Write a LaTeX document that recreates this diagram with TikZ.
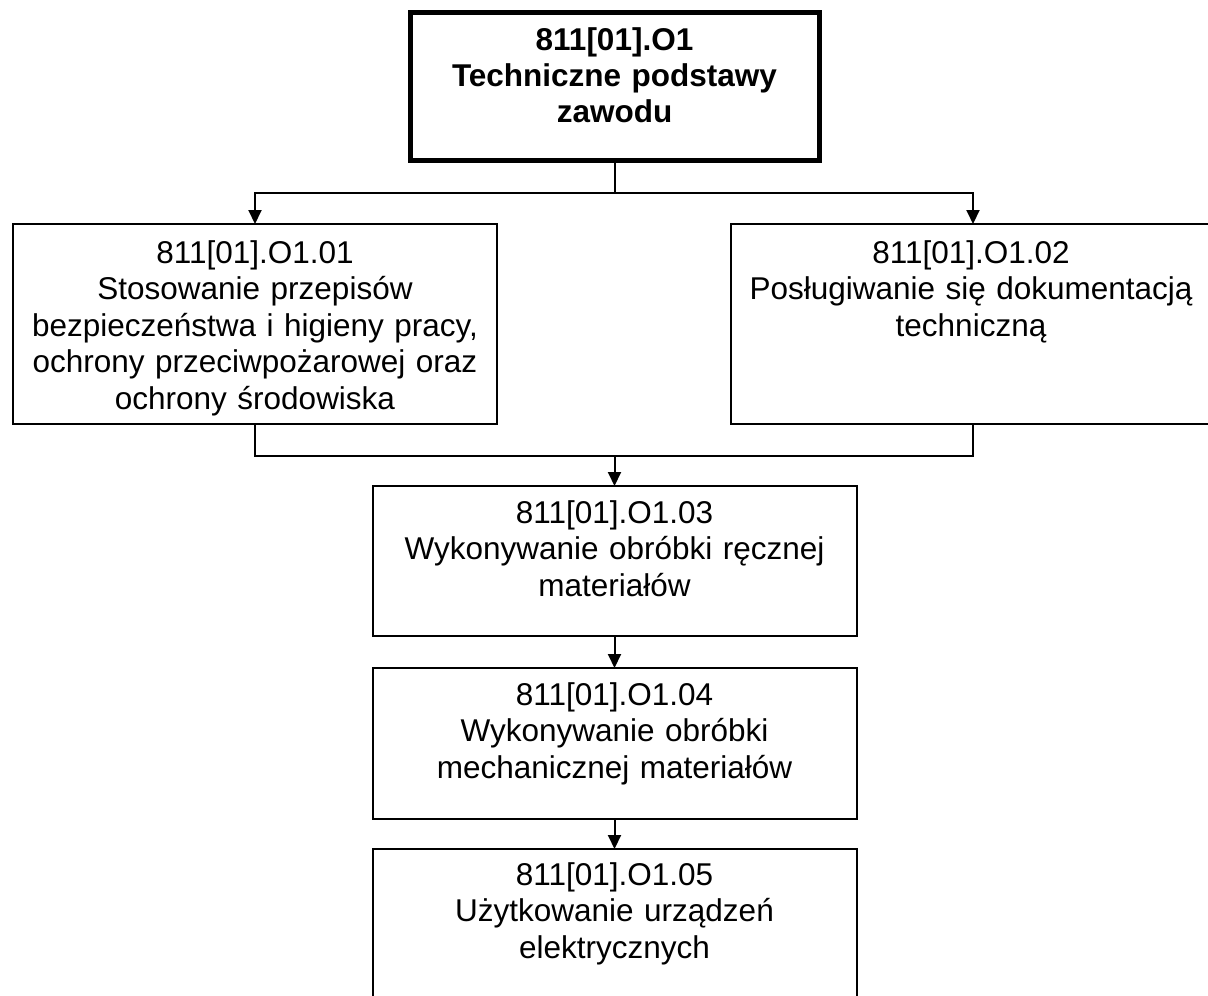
\documentclass[tikz,border=0pt]{standalone}
\usepackage{fontspec}
\setmainfont{Liberation Sans}
\usetikzlibrary{arrows.meta}
\begin{document}
\begin{tikzpicture}[x=1pt,y=-1pt,
  box/.style={draw, line width=2pt, minimum width=484pt, minimum height=150pt, inner sep=0pt, outer sep=0pt},
  txt/.style={anchor=base, align=center, text width=480pt, font=\fontsize{31.5}{36.5}\selectfont, inner sep=0pt},
  conn/.style={line width=2pt},
  arr/.style={conn, -{Triangle[width=13pt,length=14pt]}}]
\useasboundingbox (0,0) rectangle (1208,996);
% boxes
\node[box, line width=5pt, minimum width=409pt, minimum height=148pt] (top) at (614.5,86.5) {};
\node[box, minimum height=200pt] (b1) at (255,324) {};
\node[box, minimum height=200pt] (b2) at (973,324) {};
\node[box] (b3) at (614.5,561) {};
\node[box, minimum height=151pt] (b4) at (614.5,743.5) {};
\node[box] (b5) at (614.5,924) {};
% texts
\node[txt, font=\bfseries\fontsize{31.5}{36}\selectfont] (ttop) at (614.5,50) {811[01].O1\\Techniczne podstawy\\zawodu};
\node[txt] (t1) at (255,263) {811[01].O1.01\\Stosowanie przepisów\\bezpieczeństwa i higieny pracy,\\ochrony przeciwpożarowej oraz\\ochrony środowiska};
\node[txt] (t2) at (971,263) {811[01].O1.02\\Posługiwanie się dokumentacją\\techniczną};
\node[txt] (t3) at (614.5,523) {811[01].O1.03\\Wykonywanie obróbki ręcznej\\materiałów};
\node[txt] (t4) at (614.5,705) {811[01].O1.04\\Wykonywanie obróbki\\mechanicznej materiałów};
\node[txt] (t5) at (614.5,885) {811[01].O1.05\\Użytkowanie urządzeń\\elektrycznych};
% connectors
\coordinate (j1) at (614.5,193);
\coordinate (j2) at (614.5,456);
\draw[conn] (top.south) -- (j1);
\draw[arr] (j1) -| (b1.north);
\draw[arr] (j1) -| (b2.north);
\draw[conn] (b1.south) |- (j2);
\draw[conn] (b2.south) |- (j2);
\draw[arr] (j2) -- (b3.north);
\draw[arr] (b3.south) -- (b4.north);
\draw[arr] (b4.south) -- (b5.north);
\end{tikzpicture}
\end{document}
